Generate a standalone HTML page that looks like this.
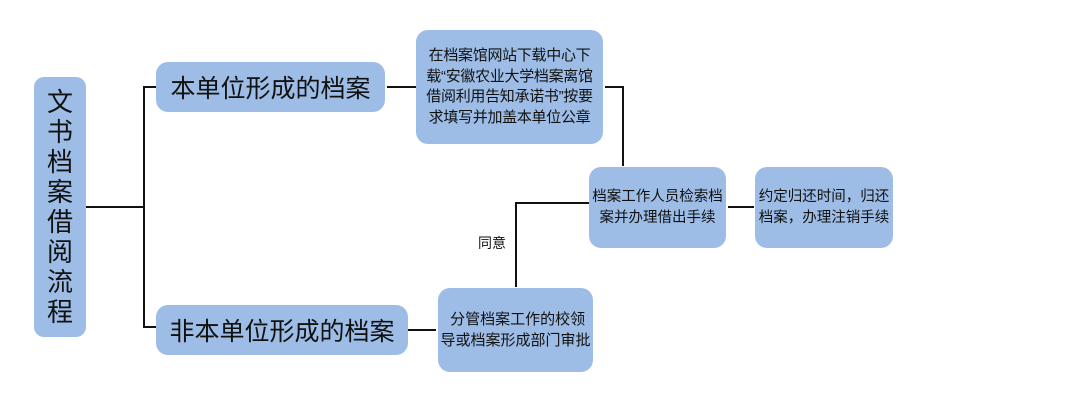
<!DOCTYPE html>
<html><head><meta charset="utf-8"><style>
body{margin:0;width:1073px;height:400px;background:#fff;position:relative;overflow:hidden;font-family:"Liberation Sans","Noto Sans CJK SC",sans-serif;color:#111}
.b{position:absolute;background:#9dbde6;border-radius:12px;display:flex;align-items:center;justify-content:center;text-align:center;box-sizing:border-box;white-space:nowrap}
.l{position:absolute;background:#111}
</style></head><body>
<div class="b" style="left:34px;top:77px;width:52px;height:260px;font-size:26px;line-height:30px;flex-direction:column;border-radius:10px">文<br>书<br>档<br>案<br>借<br>阅<br>流<br>程</div>
<div class="b" style="left:156px;top:62px;width:229px;height:50px;font-size:25px">本单位形成的档案</div>
<div class="b" style="left:156px;top:305px;width:252px;height:50px;font-size:25px">非本单位形成的档案</div>
<div class="b" style="left:416px;top:30px;width:187px;height:114px;font-size:15px;line-height:20.5px;letter-spacing:-0.3px">在档案馆网站下载中心下<br>载“安徽农业大学档案离馆<br>借阅利用告知承诺书”按要<br>求填写并加盖本单位公章</div>
<div class="b" style="left:589px;top:167px;width:137px;height:81px;font-size:14.5px;line-height:21px">档案工作人员检索档<br>案并办理借出手续</div>
<div class="b" style="left:755px;top:167px;width:138px;height:81px;font-size:14.5px;line-height:21px">约定归还时间，归还<br>档案，办理注销手续</div>
<div class="b" style="left:438px;top:288px;width:155px;height:84px;font-size:15px;line-height:21px">&nbsp;分管档案工作的校领<br>导或档案形成部门审批</div>
<div class="l" style="left:86px;top:206px;width:58px;height:2px"></div>
<div class="l" style="left:143px;top:86px;width:2px;height:242px"></div>
<div class="l" style="left:143px;top:86px;width:13px;height:2px"></div>
<div class="l" style="left:143px;top:326px;width:13px;height:2px"></div>
<div class="l" style="left:387px;top:86px;width:29px;height:2px"></div>
<div class="l" style="left:605px;top:86px;width:18px;height:2px"></div>
<div class="l" style="left:622px;top:86px;width:2px;height:80px"></div>
<div class="l" style="left:728px;top:206px;width:26px;height:2px"></div>
<div class="l" style="left:516px;top:202px;width:73px;height:2px"></div>
<div class="l" style="left:515px;top:202px;width:2px;height:85px"></div>
<div class="l" style="left:408px;top:329px;width:28px;height:2px"></div>
<div style="position:absolute;left:478px;top:233px;font-size:14px">同意</div>
</body></html>
